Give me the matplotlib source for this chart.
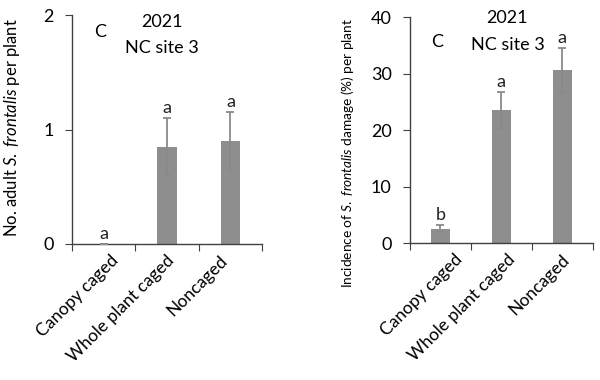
import matplotlib
matplotlib.use("Agg")
import matplotlib.pyplot as plt
import matplotlib.transforms as mtrans
import numpy as np

plt.rcParams['font.family'] = ['Lato', 'DejaVu Sans']
plt.rcParams['mathtext.fontset'] = 'custom'
plt.rcParams['mathtext.rm'] = 'Lato'
plt.rcParams['mathtext.it'] = 'Lato:italic'

# data
treatments = ['Canopy caged', 'Whole plant caged', 'Noncaged']
adults_mean = [0.0, 0.85, 0.90]
adults_se = [0.0, 0.25, 0.25]
adults_letters = ['a', 'a', 'a']
damage_mean = [2.6, 23.5, 30.6]
damage_se = [0.6, 3.2, 3.9]
damage_letters = ['b', 'a', 'a']

bar_col = '#8e8e8e'
err_col = '#8a8a8a'
axis_col = '#404040'

fig = plt.figure(figsize=(6, 3.8), dpi=100)
ax1 = fig.add_axes([0.12, 0.358, 0.317, 0.602])
ax2 = fig.add_axes([0.683, 0.36, 0.305, 0.595])


def panel(ax, mean, se, letters, ymax, step, ylabel, lab_size, lab_xy, shifts):
    x = np.arange(len(mean))
    ax.bar(x, mean, width=0.31, color=bar_col, zorder=2)
    ax.errorbar(x, mean, yerr=se, fmt='none', ecolor=err_col, elinewidth=1.3,
                capsize=3, capthick=1.3, zorder=3)
    for xi, m, s, l in zip(x, mean, se, letters):
        ax.annotate(l, (xi, m + s), xytext=(0, 1.5), textcoords='offset points',
                    ha='center', va='bottom', fontsize=13, color='#222222')
    ax.set_xlim(-0.5, len(mean) - 0.5)
    ax.set_ylim(0, ymax)
    ax.set_yticks(np.arange(0, ymax + step / 2, step))
    ax.set_xticks(np.arange(len(mean) + 1) - 0.5)
    ax.set_xticklabels([])
    ax.set_xticks(x, minor=True)
    ax.set_xticklabels(treatments, minor=True, rotation=45, ha='right',
                       va='center', rotation_mode='anchor', fontsize=12.5)
    ax.tick_params(axis='x', which='minor', length=0, pad=10)
    ax.tick_params(axis='x', which='major', direction='out', length=5,
                   color=axis_col)
    ax.tick_params(axis='y', direction='out', length=5, color=axis_col,
                   labelsize=13, pad=8)
    for lab, dx in zip(ax.get_xticklabels(minor=True), shifts):
        lab.set_transform(lab.get_transform() +
                          mtrans.ScaledTranslation(dx / 100, 0, fig.dpi_scale_trans))
    for side in ['top', 'right']:
        ax.spines[side].set_visible(False)
    for side in ['left', 'bottom']:
        ax.spines[side].set_color(axis_col)
        ax.spines[side].set_linewidth(1.0)
    ax.set_ylabel(ylabel, fontsize=lab_size)
    ax.yaxis.set_label_coords(*lab_xy)
    ax.set_facecolor('none')


panel(ax1, adults_mean, adults_se, adults_letters, 2, 1,
      r'No. adult $\it{S.\ frontalis}$ per plant', 12, (-0.265, 0.51),
      [12, 5, -6])
panel(ax2, damage_mean, damage_se, damage_letters, 40, 10,
      r'Incidence of $\it{S.\ frontalis}$ damage (%) per plant', 9.8,
      (-0.295, 0.40), [20, 11, 5])

# panel titles
fig.text(0.167, 0.915, 'C', fontsize=13, ha='center', va='center')
fig.text(0.27, 0.942, '2021', fontsize=13, ha='center', va='center')
fig.text(0.27, 0.873, 'NC site 3', fontsize=13, ha='center', va='center')
fig.text(0.728, 0.89, 'C', fontsize=13, ha='center', va='center')
fig.text(0.845, 0.953, '2021', fontsize=13, ha='center', va='center')
fig.text(0.847, 0.882, 'NC site 3', fontsize=13, ha='center', va='center')

fig.savefig('out.png', dpi=100, facecolor='white')
